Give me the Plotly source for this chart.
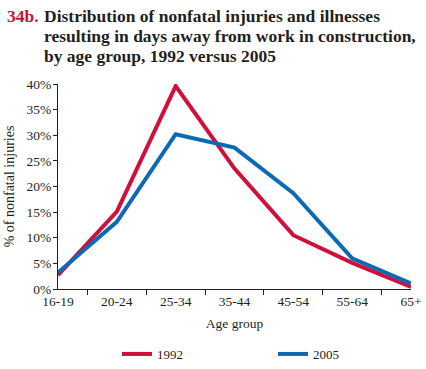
import plotly.graph_objects as go

age_groups = ["16-19", "20-24", "25-34", "35-44", "45-54", "55-64", "65+"]
pct_1992 = [2.7, 15.1, 39.6, 23.5, 10.5, 5.1, 0.4]
pct_2005 = [3.2, 13.1, 30.2, 27.6, 18.7, 6.0, 1.1]
y_ticks = [0, 5, 10, 15, 20, 25, 30, 35, 40]
y_tick_labels = [f"{v}%" for v in y_ticks]

RED = "#D0103A"
BLUE = "#0C6AB4"
INK = "#231F20"
FONT = "Liberation Serif"

# The page body margin is removed by a post-script, so the figure fills the window.
W, H = 426, 369
PLOT_L, PLOT_R, PLOT_T, PLOT_B = 58, 411, 84, 289  # screen pixels
L, R, T, B = PLOT_L, W - PLOT_R, PLOT_T, H - PLOT_B
PW, PH = W - L - R, H - T - B


def px_x(sx):
    return (sx - L) / PW


def px_y(sy):
    return (H - B - sy) / PH


fig = go.Figure()
fig.add_trace(go.Scatter(x=age_groups, y=pct_1992, mode="lines", name="1992",
                         line=dict(color=RED, width=4), cliponaxis=False,
                         legend="legend"))
fig.add_trace(go.Scatter(x=age_groups, y=pct_2005, mode="lines", name="2005",
                         line=dict(color=BLUE, width=4), cliponaxis=False,
                         legend="legend2"))

legend_common = dict(orientation="h", xanchor="left", yanchor="middle",
                     font=dict(family=FONT, size=13, color=INK),
                     bgcolor="rgba(0,0,0,0)", borderwidth=0)

fig.update_layout(
    width=W, height=H,
    margin=dict(l=L, r=R, t=T, b=B, autoexpand=False),
    paper_bgcolor="white", plot_bgcolor="white",
    font=dict(family=FONT, size=13.5, color=INK),
    showlegend=True,
    legend=dict(x=px_x(117), y=px_y(354), **legend_common),
    legend2=dict(x=px_x(273), y=px_y(354), **legend_common),
    xaxis=dict(type="category", range=[0, 6], tickson="boundaries",
               ticks="outside", ticklen=5, tickcolor=INK,
               showline=True, linecolor=INK, linewidth=1,
               showgrid=False, zeroline=False,
               title=dict(text="Age group", font=dict(family=FONT, size=13.5), standoff=10),
               tickfont=dict(family=FONT, size=13.5)),
    yaxis=dict(range=[0, 40], tickvals=y_ticks, ticktext=y_tick_labels,
               ticks="outside", ticklen=4, tickcolor=INK,
               showline=True, linecolor=INK, linewidth=1,
               showgrid=False, zeroline=False, ticklabelstandoff=-1,
               title=dict(text="% of nonfatal injuries", font=dict(family=FONT, size=14), standoff=8),
               tickfont=dict(family=FONT, size=13.5)),
)

fig.add_annotation(xref="paper", yref="paper", x=px_x(6), y=px_y(16),
                   xanchor="left", yanchor="middle", showarrow=False, borderpad=0,
                   text="<b>34b.</b>",
                   font=dict(family=FONT, size=17.5, color=RED))
title_lines = [
    "Distribution of nonfatal injuries and illnesses",
    "resulting in days away from work in construction,",
    "by age group, 1992 versus 2005",
]
for i, line in enumerate(title_lines):
    fig.add_annotation(xref="paper", yref="paper", x=px_x(43), y=px_y(16 + 20 * i),
                       xanchor="left", yanchor="middle", showarrow=False, borderpad=0,
                       text=f"<b>{line}</b>",
                       font=dict(family=FONT, size=17.5, color=INK))

fig.write_html("out.html",
               config={"displayModeBar": False},
               post_script="document.body.style.margin='0';document.body.style.overflow='hidden';")
